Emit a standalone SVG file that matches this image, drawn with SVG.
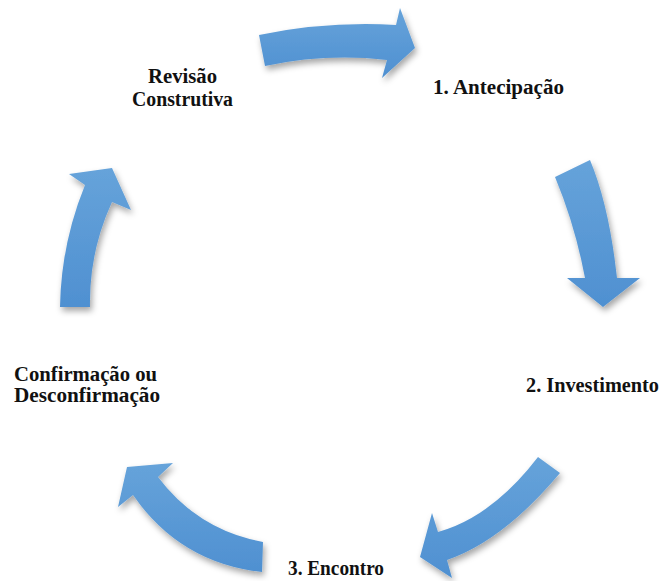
<svg xmlns="http://www.w3.org/2000/svg" width="660" height="581" viewBox="0 0 660 581">
  <style>
    .lbl { font-family: 'Liberation Serif', 'Times New Roman', serif; font-weight: 700; font-size: 20px; fill: #111; }
    .arrow { fill: url(#blue); filter: url(#shadow); }
  </style>
  <defs>
    <linearGradient id="blue" x1="0" y1="0" x2="0" y2="1">
      <stop offset="0" stop-color="#66a3da"/>
      <stop offset="1" stop-color="#4f90d1"/>
    </linearGradient>
    <filter id="shadow" x="-20%" y="-20%" width="140%" height="150%">
      <feDropShadow dx="2" dy="4" stdDeviation="3" flood-color="#000" flood-opacity="0.35"/>
    </filter>
  </defs>
  <rect width="660" height="581" fill="#ffffff"/>
  <g id="connectors">
    <path class="arrow" d="M259,35 Q327,21 396,25 L400,8 L415,48 L382,78 L387,60 Q326,53 265,66 Z"/>
    <path class="arrow" d="M555,177 Q575,225 585,278 L567,278 L603,307 L640,278 L617,278 Q609,205 590,160 Z"/>
    <path class="arrow" d="M538,457 Q492,517 438,532 L432,513 L420,557 L452,578 L447,560 Q503,541 560,473 Z"/>
    <path class="arrow" d="M263,542 Q198,530 158,477 L173,463 L127,467 L118,507 L133,495 Q180,563 262,572 Z"/>
    <path class="arrow" d="M60,307 Q61,244 85,185 L69,174 L112,168 L131,210 L112,202 Q89,252 90,307 Z"/>
  </g>
  <g id="node-revisao">
    <text class="lbl" x="148" y="83" textLength="69" lengthAdjust="spacingAndGlyphs">Revisão</text>
    <text class="lbl" x="132" y="106" textLength="101" lengthAdjust="spacingAndGlyphs">Construtiva</text>
  </g>
  <g id="node-antecipacao">
    <text class="lbl" x="433" y="94" textLength="131" lengthAdjust="spacingAndGlyphs">1. Antecipação</text>
  </g>
  <g id="node-investimento">
    <text class="lbl" x="526" y="392" textLength="133" lengthAdjust="spacingAndGlyphs">2. Investimento</text>
  </g>
  <g id="node-encontro">
    <text class="lbl" x="288" y="575" textLength="96" lengthAdjust="spacingAndGlyphs">3. Encontro</text>
  </g>
  <g id="node-confirmacao">
    <text class="lbl" x="14" y="381" textLength="143" lengthAdjust="spacingAndGlyphs">Confirmação ou</text>
    <text class="lbl" x="14" y="402" textLength="146" lengthAdjust="spacingAndGlyphs">Desconfirmação</text>
  </g>
</svg>
